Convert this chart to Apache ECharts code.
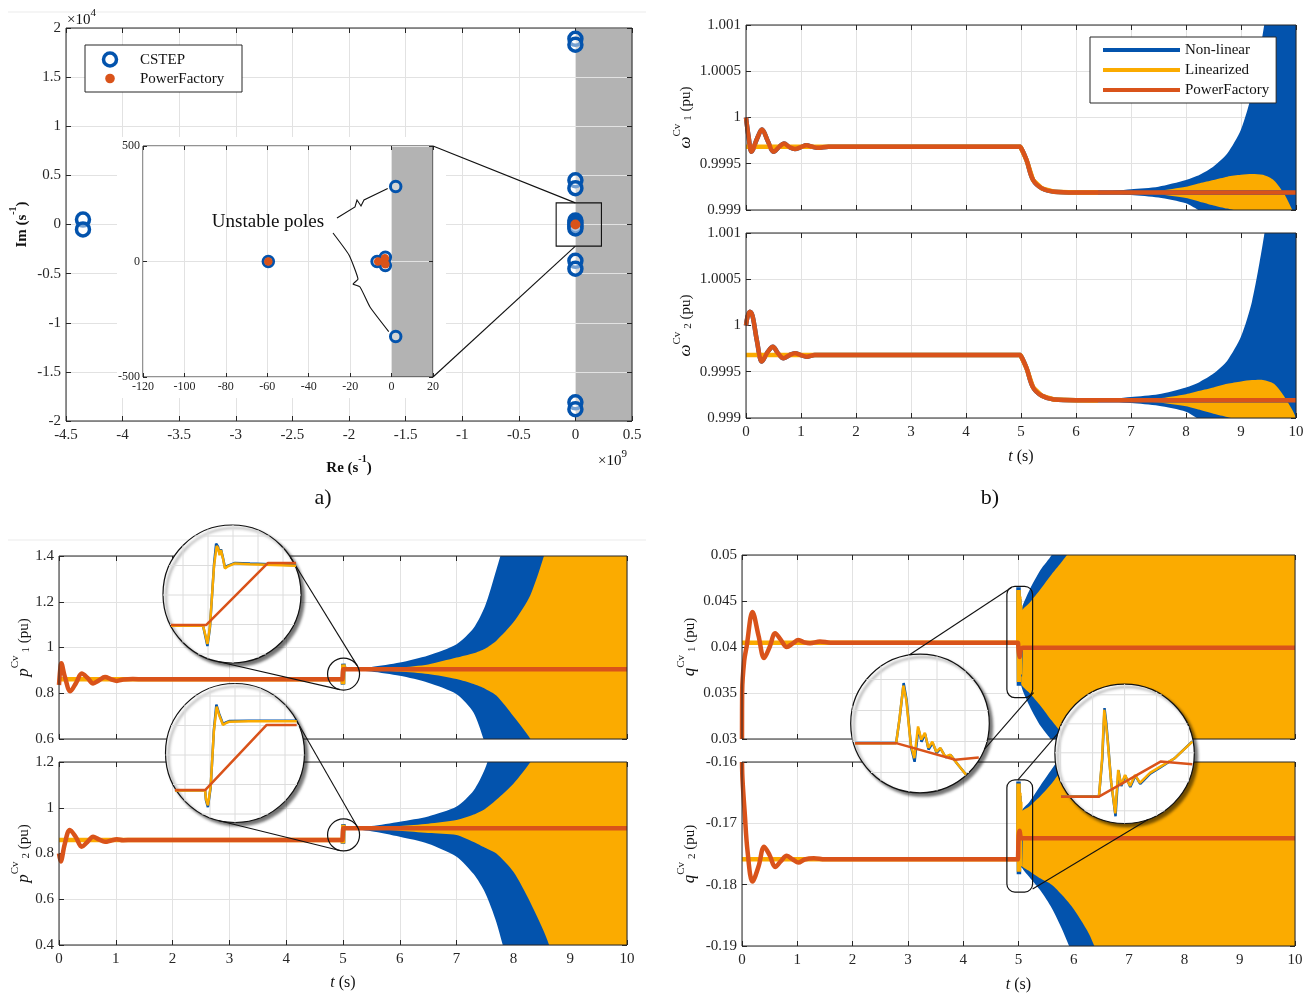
<!DOCTYPE html>
<html>
<head>
<meta charset="utf-8">
<title>Pole map and responses</title>
<script src="https://cdn.jsdelivr.net/npm/echarts@6/dist/echarts.min.js"></script>
<style>
  html, body { margin: 0; padding: 0; background: #fff; }
  #chart { width: 1311px; height: 998px; }
</style>
</head>
<body>
<div id="chart"></div>
<script>
"use strict";
var FONT = 'Liberation Serif';
var INK = '#262626';
var GRID_C = '#e2e2e2';
var BLUE = '#0353ad';
var YELLOW = '#fbab00';
var ORANGE = '#d9531a';
var SHADE = '#b3b3b3';

// ---- a) pole map: Re in 1e9 s^-1, Im in 1e4 s^-1 ----
var cstepPoles = [[-4.35, 0.05], [-4.35, -0.05], [0, 1.89], [0, 1.83], [0, 0.45], [0, 0.37],
  [0, -0.37], [0, -0.45], [0, -1.81], [0, -1.88], [0, 0.04], [0, 0.02], [0, 0], [0, -0.02], [0, -0.04]];
var pfPoles = [[0, 0]];
var unstableMain = [0, 0.5];
var zoomBox = [[-0.17, 0.22], [0.23, -0.22]];
// inset, s^-1
var cstepInset = [[-59.5, 0], [-7, 0], [-3, 18], [-3, -17], [2, 325], [2, -325]];
var pfInset = [[-59.5, 0], [-6.5, 0], [-3.2, 14], [-3, -12]];
var unstableInset = [0, 20];

// ---- b) converter speed ----
var w1PF = [[0, 1.0], [0.05, 0.99978], [0.1, 0.99963], [0.2, 0.99977], [0.29, 0.99987], [0.4, 0.99974], [0.5, 0.99963],
  [0.6, 0.99968], [0.69, 0.99972], [0.79, 0.99968], [0.89, 0.99966], [1.0, 0.99968], [1.1, 0.9997], [1.2, 0.999685],
  [1.3, 0.999672], [1.5, 0.999685], [4.99, 0.999684], [5.0, 0.999684], [5.1, 0.99954], [5.22, 0.999324],
  [5.38, 0.999234], [5.6, 0.999198], [6.0, 0.99919], [10, 0.99919]];
var w1Lin = [[0, 0.999684], [4.99, 0.999684], [5.0, 0.999684], [5.1, 0.99954], [5.22, 0.999324], [5.38, 0.999234],
  [5.6, 0.999198], [6.0, 0.99919], [6.4, 0.99919]];
var w2PF = [[0, 1.0], [0.03, 1.0001], [0.07, 1.00015], [0.12, 1.0001], [0.2, 0.99983], [0.29, 0.99961], [0.39, 0.99971],
  [0.49, 0.99977], [0.58, 0.9997], [0.68, 0.999645], [0.79, 0.99968], [0.89, 0.9997], [1.0, 0.99968], [1.1, 0.999663],
  [1.25, 0.99968], [1.5, 0.999681], [4.99, 0.999681], [5.0, 0.999681], [5.1, 0.99954], [5.22, 0.99933],
  [5.38, 0.99924], [5.6, 0.9992], [6.0, 0.999193], [10, 0.999193]];
var w2Lin = [[0, 0.999681], [4.99, 0.999681], [5.0, 0.999681], [5.1, 0.99954], [5.22, 0.99933], [5.38, 0.99924],
  [5.6, 0.9992], [6.0, 0.999193], [6.4, 0.99919]];
// oscillation envelopes
var wT = [6.4, 7.0, 7.5, 8.0, 8.25, 8.5, 8.75, 9.0, 9.2, 9.4, 9.6, 9.8, 10];
var w1BlueHi = [0.99919, 0.999224, 0.999252, 0.999324, 0.99938, 0.99947, 0.99961, 0.99987, 1.00027, 1.00092, 1.0017, 1.0025, 1.0033];
var w1BlueLo = [0.99919, 0.999163, 0.999135, 0.999072, 0.99899, 0.99891, 0.99877, 0.99853, 0.99815, 0.9977, 0.997, 0.9962, 0.9955];
var w1YelHi = [0.99919, 0.999195, 0.99921, 0.999252, 0.99929, 0.999324, 0.99936, 0.99938, 0.999389, 0.99938, 0.99932, 0.99916, 0.9989];
var w1YelLo = [0.99919, 0.999185, 0.99917, 0.99913, 0.99909, 0.99905, 0.999015, 0.99898, 0.99893, 0.99889, 0.99886, 0.99882, 0.9988];
var w2BlueHi = [0.99919, 0.999226, 0.999256, 0.99933, 0.99939, 0.99948, 0.99962, 0.99988, 1.00026, 1.0009, 1.0017, 1.0025, 1.0033];
var w2BlueLo = [0.99919, 0.999162, 0.999132, 0.999068, 0.99898, 0.9989, 0.99876, 0.99852, 0.99815, 0.9977, 0.997, 0.9962, 0.9955];
var w2YelHi = [0.99919, 0.999196, 0.999213, 0.999258, 0.999295, 0.99933, 0.99937, 0.999395, 0.99941, 0.999412, 0.99937, 0.99922, 0.999];
var w2YelLo = [0.99919, 0.999184, 0.999168, 0.999128, 0.999088, 0.999045, 0.99901, 0.99897, 0.99893, 0.99889, 0.99886, 0.99883, 0.9988];

// ---- active power ----
var p1PF = [[0, 0.836], [0.02, 0.9], [0.04, 0.931], [0.1, 0.875], [0.2, 0.809], [0.3, 0.845], [0.4, 0.886], [0.5, 0.868],
  [0.6, 0.843], [0.7, 0.856], [0.81, 0.871], [0.92, 0.861], [1.02, 0.854], [1.13, 0.86], [1.3, 0.862], [1.5, 0.861],
  [4.99, 0.861], [5.0, 0.861], [5.003, 0.905], [5.006, 0.905], [10, 0.905]];
var p1Lin = [[0, 0.861], [4.995, 0.861], [5.0, 0.84], [5.006, 0.926], [5.012, 0.912], [5.02, 0.905], [5.05, 0.905]];
var p1NL = [[4.995, 0.861], [5.0, 0.838], [5.006, 0.929], [5.012, 0.913], [5.02, 0.905], [5.05, 0.905]];
var p2PF = [[0, 0.8], [0.03, 0.765], [0.1, 0.84], [0.19, 0.903], [0.3, 0.87], [0.4, 0.83], [0.5, 0.85], [0.6, 0.873],
  [0.7, 0.862], [0.81, 0.851], [0.92, 0.857], [1.02, 0.862], [1.13, 0.858], [1.3, 0.859], [4.99, 0.859], [5.0, 0.859],
  [5.003, 0.91], [5.006, 0.91], [10, 0.91]];
var p2Lin = [[0, 0.859], [4.995, 0.859], [5.0, 0.845], [5.006, 0.925], [5.012, 0.913], [5.02, 0.91], [5.05, 0.91]];
var p2NL = [[4.995, 0.859], [5.0, 0.843], [5.006, 0.928], [5.012, 0.914], [5.02, 0.91], [5.05, 0.91]];
var pT = [5.05, 5.5, 6.0, 6.5, 7.0, 7.3, 7.5, 7.7, 8.0, 8.3, 8.6, 9.0, 10];
var p1BlueHi = [0.905, 0.915, 0.934, 0.965, 1.0145, 1.085, 1.18, 1.34, 1.6, 1.9, 2.2, 2.6, 3.5];
var p1BlueLo = [0.905, 0.895, 0.876, 0.846, 0.796, 0.715, 0.58, 0.42, 0.2, 0.0, -0.3, -0.7, -1.6];
var p1YelHi = [0.905, 0.908, 0.913, 0.926, 0.956, 0.975, 0.995, 1.03, 1.11, 1.23, 1.45, 1.8, 2.8];
var p1YelLo = [0.905, 0.902, 0.895, 0.884, 0.862, 0.84, 0.82, 0.79, 0.7, 0.6, 0.45, 0.2, -0.6];
var p2BlueHi = [0.91, 0.92, 0.939, 0.962, 1.005, 1.075, 1.17, 1.33, 1.6, 1.9, 2.2, 2.6, 3.5];
var p2BlueLo = [0.91, 0.897, 0.873, 0.843, 0.786, 0.71, 0.63, 0.5, 0.22, -0.1, -0.4, -0.8, -1.6];
var p2YelHi = [0.91, 0.915, 0.92, 0.93, 0.946, 0.97, 0.995, 1.035, 1.105, 1.2, 1.33, 1.6, 2.6];
var p2YelLo = [0.91, 0.905, 0.9, 0.89, 0.881, 0.85, 0.825, 0.8, 0.72, 0.585, 0.42, 0.1, -0.8];

// ---- reactive power ----
var q1PF = [[0, 0.03], [0.003, 0.0352], [0.04, 0.0385], [0.085, 0.0401], [0.19, 0.0438], [0.3, 0.0412], [0.4, 0.0388],
  [0.5, 0.04], [0.6, 0.0415], [0.7, 0.0408], [0.81, 0.04], [0.92, 0.0404], [1.02, 0.04076], [1.13, 0.0405],
  [1.23, 0.0404], [1.41, 0.0406], [1.6, 0.04047], [4.99, 0.04047], [5.0, 0.04047], [5.005, 0.0395], [5.02, 0.0389],
  [5.04, 0.0397], [5.08, 0.03992], [10, 0.03992]];
var q1Lin = [[0, 0.04047], [4.995, 0.04047], [5.0, 0.0462], [5.008, 0.0362], [5.016, 0.0455], [5.024, 0.037], [5.032, 0.0445], [5.04, 0.0399]];
var q1NL = [[4.995, 0.04047], [5.0, 0.0465], [5.008, 0.0358], [5.016, 0.0452], [5.024, 0.0368], [5.04, 0.0399]];
var q2PF = [[0, -0.16], [0.01, -0.163], [0.05, -0.1684], [0.1, -0.1745], [0.19, -0.1795], [0.3, -0.177], [0.4, -0.1738],
  [0.5, -0.1752], [0.6, -0.1771], [0.7, -0.1762], [0.81, -0.1753], [0.92, -0.1759], [1.02, -0.1764], [1.13, -0.1759],
  [1.3, -0.1757], [1.5, -0.17587], [4.99, -0.17587], [5.0, -0.17587], [5.003, -0.172], [5.02, -0.1712], [5.04, -0.1722],
  [5.08, -0.17244], [10, -0.17244]];
var q2Lin = [[0, -0.17587], [4.995, -0.17587], [5.0, -0.1635], [5.008, -0.1779], [5.016, -0.165], [5.024, -0.177], [5.032, -0.1665], [5.04, -0.1725]];
var q2NL = [[4.995, -0.17587], [5.0, -0.1632], [5.008, -0.1783], [5.016, -0.1655], [5.024, -0.1772], [5.04, -0.1725]];
var qT = [5.04, 5.2, 5.4, 5.6, 5.8, 6.0, 6.3, 7.0, 10];
var q1BlueHi = [0.0437, 0.0462, 0.0484, 0.05, 0.0525, 0.055, 0.06, 0.075, 0.15];
var q1BlueLo = [0.0361, 0.0336, 0.0314, 0.0298, 0.0273, 0.025, 0.02, 0.005, -0.07];
var q1YelHi = [0.0437, 0.0448, 0.0463, 0.0479, 0.0494, 0.051, 0.054, 0.065, 0.15];
var q1YelLo = [0.0361, 0.035, 0.0336, 0.032, 0.0305, 0.029, 0.026, 0.015, -0.07];
var q2BlueHi = [-0.1683, -0.1665, -0.1638, -0.1612, -0.1585, -0.155, -0.148, -0.125, -0.02];
var q2BlueLo = [-0.1767, -0.1788, -0.181, -0.1838, -0.1875, -0.192, -0.2, -0.225, -0.33];
var q2YelHi = [-0.1683, -0.1672, -0.1655, -0.1635, -0.161, -0.1585, -0.154, -0.14, -0.02];
var q2YelLo = [-0.1767, -0.1778, -0.179, -0.18, -0.1818, -0.184, -0.1885, -0.205, -0.33];

// ---- magnified views around t = 5 s ----
var m1PF = [[4.9757, 0.861], [5.0012, 0.861], [5.0461, 0.907], [5.0664, 0.907]];
var m1Lin = [[4.9758, 0.8605], [4.999, 0.8605], [5.0004, 0.855], [5.0022, 0.847], [5.004, 0.86], [5.007, 0.905],
  [5.0089, 0.9196], [5.0099, 0.918], [5.011, 0.9127], [5.012, 0.9165], [5.0135, 0.91], [5.0149, 0.9029],
  [5.0171, 0.9045], [5.0222, 0.9066], [5.033, 0.906], [5.0664, 0.9048]];
var m1NL = [[4.9758, 0.8607], [4.999, 0.8607], [5.0004, 0.854], [5.0022, 0.8455], [5.004, 0.859], [5.007, 0.906],
  [5.0085, 0.9212], [5.0099, 0.919], [5.011, 0.9135], [5.012, 0.917], [5.0135, 0.9105], [5.0149, 0.9035],
  [5.0171, 0.905], [5.0222, 0.907], [5.033, 0.9065], [5.0664, 0.9052]];
var m2PF = [[4.9768, 0.859], [4.9987, 0.859], [5.0428, 0.91], [5.0644, 0.91]];
var m2Lin = [[4.9768, 0.8585], [4.9985, 0.8585], [4.9991, 0.852], [5.0005, 0.847], [5.0025, 0.862], [5.0048, 0.905],
  [5.0068, 0.9243], [5.0085, 0.918], [5.0114, 0.91], [5.0135, 0.9115], [5.0157, 0.9125], [5.03, 0.9128], [5.0644, 0.9129]];
var m2NL = [[4.9768, 0.8588], [4.9985, 0.8588], [4.9991, 0.851], [5.0005, 0.8455], [5.0025, 0.861], [5.0048, 0.906],
  [5.0066, 0.926], [5.0085, 0.919], [5.0114, 0.9105], [5.0135, 0.912], [5.0157, 0.913], [5.03, 0.9132], [5.0644, 0.9133]];
var m3PF = [[4.9731, 0.04048], [5.0028, 0.04048], [5.0455, 0.03898], [5.0624, 0.03918]];
var m3Lin = [[4.9731, 0.04048], [5.0028, 0.04048], [5.0051, 0.04258], [5.008, 0.04567], [5.0101, 0.04438], [5.0134, 0.04033],
  [5.0159, 0.03913], [5.0186, 0.04198], [5.0209, 0.04078], [5.0235, 0.04141], [5.026, 0.04006], [5.0289, 0.0406],
  [5.0318, 0.0397], [5.0346, 0.04006], [5.0383, 0.03925], [5.0419, 0.03943], [5.0469, 0.03862], [5.0532, 0.03763]];
var m3NL = [[4.9731, 0.0405], [5.0028, 0.0405], [5.0053, 0.0427], [5.0082, 0.0459], [5.0103, 0.0444], [5.0136, 0.0401],
  [5.0161, 0.0388], [5.0188, 0.0418], [5.0211, 0.0406], [5.0237, 0.0413], [5.0262, 0.0399], [5.0291, 0.0405],
  [5.032, 0.0396], [5.0348, 0.04], [5.0385, 0.0392], [5.0421, 0.0394], [5.047, 0.0386], [5.0532, 0.03765]];
var m4PF = [[4.9744, -0.17582], [5.0016, -0.17582], [5.0458, -0.17245], [5.0686, -0.1727]];
var m4Lin = [[4.9744, -0.17582], [5.0016, -0.17582], [5.0038, -0.17229], [5.0054, -0.16747], [5.0067, -0.16892],
  [5.0078, -0.17036], [5.0102, -0.17421], [5.0133, -0.17742], [5.0154, -0.17325], [5.0174, -0.17469], [5.0203, -0.17373],
  [5.0239, -0.17479], [5.0275, -0.17373], [5.031, -0.1745], [5.0382, -0.17354], [5.0454, -0.17296], [5.0562, -0.1721],
  [5.0686, -0.17053]];
var m4NL = [[4.9744, -0.1758], [5.0016, -0.1758], [5.004, -0.1722], [5.0056, -0.1673], [5.0069, -0.1688], [5.008, -0.1705],
  [5.0104, -0.1745], [5.0135, -0.1777], [5.0156, -0.1733], [5.0176, -0.1748], [5.0205, -0.1738], [5.0241, -0.1749],
  [5.0277, -0.1738], [5.0312, -0.1746], [5.0384, -0.1736], [5.0456, -0.173], [5.0562, -0.1721], [5.0686, -0.1705]];
// regions that are magnified
var p1Focus = [5.01, 0.884];
var p2Focus = [5.01, 0.881];
var q1Focus = [[4.79, 0.0466], [5.255, 0.0345]];
var q2Focus = [[4.79, -0.1629], [5.255, -0.1812]];

var grids = [], xAxes = [], yAxes = [], series = [];

function fmt(d) { return function (v) { return String(+v.toFixed(d)); }; }

// one boxed axes: bottom/left carry labels and grid, top/right only ticks
function panel(rect, xr, yr, o) {
  o = o || {};
  var gi = grids.length;
  grids.push({ left: rect[0], top: rect[1], width: rect[2], height: rect[3], show: true, outerBoundsMode: 'none',
    borderColor: INK, borderWidth: 1, backgroundColor: 'transparent', z: o.boxZ || 5 });
  function mk(pos, r, main, f, margin, nm) {
    var a = { type: 'value', gridIndex: gi, position: pos, min: r[0], max: r[1], interval: r[2], z: o.axZ || 0,
      axisLine: { show: false, onZero: false },
      axisTick: { show: true, inside: true, length: o.tick || 5, lineStyle: { color: INK } },
      axisLabel: { show: !!f, fontFamily: FONT, fontSize: o.fs || 15, color: INK, margin: margin,
        formatter: f, showMinLabel: true, showMaxLabel: true, hideOverlap: false },
      splitLine: { show: main, lineStyle: { color: GRID_C, width: 1 } }
    };
    if (nm) { for (var k in nm) a[k] = nm[k]; }
    return a;
  }
  xAxes.push(mk('bottom', xr, true, o.xFmt, o.xMargin || 7, o.xName), mk('top', xr, false));
  yAxes.push(mk('left', yr, true, o.yFmt, o.yMargin || 5, o.yName), mk('right', yr, false));
  return xAxes.length - 2;
}

function magGrid(c, r, xr, yr) {
  var gi = grids.length;
  grids.push({ left: c[0] - r, top: c[1] - r, width: 2 * r, height: 2 * r, show: false, outerBoundsMode: 'none' });
  xAxes.push({ type: 'value', gridIndex: gi, min: xr[0], max: xr[1], show: false });
  yAxes.push({ type: 'value', gridIndex: gi, min: yr[0], max: yr[1], show: false });
  return xAxes.length - 1;
}

var RICH = {
  w: { fontFamily: FONT, fontStyle: 'italic', fontSize: 17, color: '#111', lineHeight: 22, verticalAlign: 'bottom' },
  sup: { fontFamily: FONT, fontSize: 11, color: '#111', lineHeight: 10, verticalAlign: 'top' },
  sub: { fontFamily: FONT, fontSize: 11, color: '#111', lineHeight: 10, verticalAlign: 'bottom', padding: [0, 0, 0, 3] },
  n: { fontFamily: FONT, fontSize: 15, color: '#111', lineHeight: 22, verticalAlign: 'bottom' },
  b: { fontFamily: FONT, fontWeight: 'bold', fontSize: 15, color: '#111', lineHeight: 22, verticalAlign: 'bottom' },
  bs: { fontFamily: FONT, fontWeight: 'bold', fontSize: 10, color: '#111', lineHeight: 10, verticalAlign: 'top' },
  i: { fontFamily: FONT, fontStyle: 'italic', fontSize: 16, color: '#111' },
  r: { fontFamily: FONT, fontSize: 16, color: '#111' }
};
function yName(txt, gap) {
  return { name: txt, nameLocation: 'middle', nameGap: gap, nameRotate: 90, nameMoveOverlap: false,
    nameTextStyle: { rich: RICH, fontFamily: FONT } };
}
function xName(txt, gap) {
  return { name: txt, nameLocation: 'middle', nameGap: gap, nameMoveOverlap: false,
    nameTextStyle: { rich: RICH, fontFamily: FONT } };
}
var tName = '{i|t}{r| (s)}';

var A = panel([66, 28, 566, 393], [-4.5, 0.5, 0.5], [-2, 2, 0.5],
  { axZ: 2, boxZ: 5, xFmt: fmt(2), yFmt: fmt(2), xName: xName('{b|Re (s}{bs|-1}{b|)}', 33), yName: yName('{b|Im (s}{bs|-1}{b|)}', 36) });
var AI = panel([143, 146, 290, 231], [-120, 20, 20], [-500, 500, 500],
  { axZ: 7, boxZ: 7, fs: 12, xFmt: fmt(0), yFmt: fmt(0), xMargin: 4, yMargin: 3, tick: 4 });
var W1 = panel([746, 25, 550, 185], [0, 10, 1], [0.999, 1.001, 0.0005],
  { yFmt: fmt(4), yName: yName('{w|ω}{sup|Cv}{sub|1}{n| (pu)}', 52) });
var W2 = panel([746, 233, 550, 185], [0, 10, 1], [0.999, 1.001, 0.0005],
  { xFmt: fmt(0), yFmt: fmt(4), xName: xName(tName, 31), yName: yName('{w|ω}{sup|Cv}{sub|2}{n| (pu)}', 52) });
var P1 = panel([59, 556, 568, 183], [0, 10, 1], [0.6, 1.4, 0.2],
  { yFmt: fmt(1), yName: yName('{w|p}{sup|Cv}{sub|1}{n| (pu)}', 27) });
var P2 = panel([59, 762, 568, 183], [0, 10, 1], [0.4, 1.2, 0.2],
  { xFmt: fmt(0), yFmt: fmt(1), xName: xName(tName, 30), yName: yName('{w|p}{sup|Cv}{sub|2}{n| (pu)}', 27) });
var Q1 = panel([742, 555, 553, 184], [0, 10, 1], [0.03, 0.05, 0.005],
  { yFmt: fmt(3), yName: yName('{w|q}{sup|Cv}{sub|1}{n| (pu)}', 44) });
var Q2 = panel([742, 762, 553, 184], [0, 10, 1], [-0.19, -0.16, 0.01],
  { xFmt: fmt(0), yFmt: fmt(2), xName: xName(tName, 31), yName: yName('{w|q}{sup|Cv}{sub|2}{n| (pu)}', 44) });

var MAGS = [
  { c: [232, 594], r: 69, xr: [4.97, 5.07], yr: [0.833, 0.935], d: [m1NL, m1Lin, m1PF], grid: [25, 1, 29.5, 1] },
  { c: [235, 753], r: 69.5, xr: [4.97, 5.07], yr: [0.8335, 0.9425], d: [m2NL, m2Lin, m2PF], grid: [25, 0, 29.5, 2] },
  { c: [920, 723.5], r: 69.3, xr: [4.97, 5.07], yr: [0.036, 0.0485], d: [m3NL, m3Lin, m3PF], grid: [28, -11, 31, -13] },
  { c: [1124.6, 753.8], r: 69.7, xr: [4.97, 5.07], yr: [-0.1784, -0.165], d: [m4NL, m4Lin, m4PF], grid: [32, 0, 29, -1] }
];
MAGS.forEach(function (m) { m.ax = magGrid(m.c, m.r, m.xr, m.yr); });

function line(ax, data, color, width, name, smooth, z) {
  return { type: 'line', name: name, xAxisIndex: ax, yAxisIndex: ax, data: data, symbol: 'none', showSymbol: false,
    smooth: smooth || false, lineStyle: { color: color, width: width }, itemStyle: { color: color },
    z: z || 2, silent: true, clip: true };
}
function band(ax, T, lo, hi, color) {
  return { type: 'custom', xAxisIndex: ax, yAxisIndex: ax, clip: true, silent: true, z: 2,
    data: T.map(function (t, i) { return [t, lo[i], hi[i]]; }),
    encode: { x: 0, y: [1, 2] },
    renderItem: function (params, api) {
      if (params.dataIndex !== 0) return null;
      var up = T.map(function (t, i) { return api.coord([t, hi[i]]); });
      var dn = T.map(function (t, i) { return api.coord([t, lo[i]]); }).reverse();
      return { type: 'polygon', shape: { points: up.concat(dn), smooth: 0.25 }, style: { fill: color } };
    } };
}
function shade(ax, range, z) {
  return { type: 'custom', xAxisIndex: ax, yAxisIndex: ax, z: z, silent: true, data: [range],
    renderItem: function (params, api) {
      var a = api.coord([api.value(0), 0]), b = api.coord([api.value(1), 0]);
      var cs = params.coordSys;
      return { type: 'rect', shape: { x: a[0], y: cs.y, width: b[0] - a[0], height: cs.height }, style: { fill: SHADE } };
    } };
}
function poles(ax, data, ring, size, z) {
  return { type: 'scatter', xAxisIndex: ax, yAxisIndex: ax, data: data, symbol: 'circle', symbolSize: size, z: z, silent: true,
    itemStyle: ring ? { color: 'rgba(255,255,255,0.45)', borderColor: BLUE, borderWidth: ring, opacity: 1 } : { color: ORANGE, opacity: 1 } };
}

// a)
series.push(shade(A, unstableMain, 1), poles(A, cstepPoles, 3.5, 13, 3), poles(A, pfPoles, 0, 10, 4));
series.push(shade(AI, unstableInset, 6), poles(AI, cstepInset, 3, 10.5, 8), poles(AI, pfInset, 0, 8.5, 9));

// b) and time responses
function response(ax, nl, lin, pf, T, bLo, bHi, yLo, yHi) {
  series.push(line(ax, nl, BLUE, 4.5, 'Non-linear', nl === pf ? 0.35 : false));
  series.push(line(ax, lin, YELLOW, 4.5, 'Linearized', false));
  series.push(band(ax, T, bLo, bHi, BLUE));
  series.push(band(ax, T, yLo, yHi, YELLOW));
  series.push(line(ax, pf, ORANGE, 4.5, 'PowerFactory', 0.35));
}
response(W1, w1PF, w1Lin, w1PF, wT, w1BlueLo, w1BlueHi, w1YelLo, w1YelHi);
response(W2, w2PF, w2Lin, w2PF, wT, w2BlueLo, w2BlueHi, w2YelLo, w2YelHi);
response(P1, p1NL, p1Lin, p1PF, pT, p1BlueLo, p1BlueHi, p1YelLo, p1YelHi);
response(P2, p2NL, p2Lin, p2PF, pT, p2BlueLo, p2BlueHi, p2YelLo, p2YelHi);
response(Q1, q1NL, q1Lin, q1PF, qT, q1BlueLo, q1BlueHi, q1YelLo, q1YelHi);
response(Q2, q2NL, q2Lin, q2PF, qT, q2BlueLo, q2BlueHi, q2YelLo, q2YelHi);

MAGS.forEach(function (m) {
  series.push(line(m.ax, m.d[0], BLUE, 2.5, 'nl-zoom', false, 12));
  series.push(line(m.ax, m.d[1], YELLOW, 2.5, 'lin-zoom', false, 12));
  series.push(line(m.ax, m.d[2], ORANGE, 2.5, 'pf-zoom', false, 12));
});

var option = {
  animation: false,
  backgroundColor: '#fff',
  textStyle: { fontFamily: FONT },
  grid: grids, xAxis: xAxes, yAxis: yAxes, series: series,
  legend: {
    data: [
      { name: 'Non-linear', icon: 'rect', itemStyle: { color: BLUE } },
      { name: 'Linearized', icon: 'rect', itemStyle: { color: YELLOW } },
      { name: 'PowerFactory', icon: 'rect', itemStyle: { color: ORANGE } }
    ],
    orient: 'vertical', left: 1090, top: 37, itemWidth: 77, itemHeight: 4, itemGap: 0,
    padding: [3, 7, 3, 13], backgroundColor: '#fff', borderColor: INK, borderWidth: 1, borderRadius: 0,
    textStyle: { fontFamily: FONT, fontSize: 15, color: '#111', lineHeight: 20 },
    selectedMode: false, z: 6
  }
};

var chart = echarts.init(document.getElementById('chart'));
chart.setOption(option);

// ---------- decorations placed from the axes ----------
function px(ax, v) { return chart.convertToPixel({ xAxisIndex: ax, yAxisIndex: ax }, v); }
var g = [];
function gLine(a, b, z, color, w) {
  g.push({ type: 'line', silent: true, z: z || 10, shape: { x1: a[0], y1: a[1], x2: b[0], y2: b[1] },
    style: { stroke: color || '#111', lineWidth: w || 1.1 } });
}
function gText(x, y, text, st) {
  var s = { text: text, fill: '#111', fontFamily: FONT, fontSize: 15, align: 'left', verticalAlign: 'middle' };
  for (var k in st) s[k] = st[k];
  g.push({ type: 'text', x: x, y: y, z: 20, silent: true, style: s });
}

gLine([8, 12], [646, 12], 1, '#ebebeb', 1);
gLine([8, 540], [646, 540], 1, '#ebebeb', 1);
gText(323, 498, 'a)', { fontSize: 22, align: 'center' });
gText(990, 498, 'b)', { fontSize: 22, align: 'center' });
gText(67, 18, '{a|×10}{b|4}', { rich: { a: { fontFamily: FONT, fontSize: 15, lineHeight: 20, verticalAlign: 'bottom' },
  b: { fontFamily: FONT, fontSize: 11, lineHeight: 12, verticalAlign: 'top' } } });
gText(598, 459, '{a|×10}{b|9}', { rich: { a: { fontFamily: FONT, fontSize: 15, lineHeight: 20, verticalAlign: 'bottom' },
  b: { fontFamily: FONT, fontSize: 11, lineHeight: 12, verticalAlign: 'top' } } });

// legend of a)
g.push({ type: 'rect', z: 19, silent: true, shape: { x: 85, y: 45, width: 157, height: 47 }, style: { fill: '#fff', stroke: INK, lineWidth: 1 } });
g.push({ type: 'circle', z: 20, silent: true, shape: { cx: 110, cy: 59.5, r: 6.5 }, style: { fill: '#fff', stroke: BLUE, lineWidth: 3.5 } });
g.push({ type: 'circle', z: 20, silent: true, shape: { cx: 110, cy: 78.5, r: 4.8 }, style: { fill: ORANGE } });
gText(140, 60, 'CSTEP');
gText(140, 79, 'PowerFactory');

// white backing of the inset of a)
g.push({ type: 'rect', z: 5, silent: true, shape: { x: 117, y: 137, width: 329, height: 261 }, style: { fill: '#fff' } });
var b0 = px(A, zoomBox[0]), b1 = px(A, zoomBox[1]);
g.push({ type: 'rect', z: 9, silent: true, shape: { x: b0[0], y: b0[1], width: b1[0] - b0[0], height: b1[1] - b0[1] },
  style: { fill: null, stroke: '#111', lineWidth: 1.1 } });
gLine([433, 146], px(A, [0, zoomBox[0][1]]), 9);
gLine([433, 377], px(A, [0, zoomBox[1][1]]), 9);

// unstable poles annotation
var u1 = px(AI, cstepInset[4]), u2 = px(AI, cstepInset[5]);
gText(268, 222, 'Unstable poles', { fontSize: 19, align: 'center' });
g.push({ type: 'polyline', z: 10, silent: true, shape: { points: [[337, 218], [355, 207], [357, 200], [361, 206], [364, 200], [u1[0] - 8, u1[1] + 2]] },
  style: { stroke: '#111', lineWidth: 1.1, fill: null } });
g.push({ type: 'polyline', z: 10, silent: true, shape: { points: [[333, 233], [349, 255], [358, 279], [353, 284], [360, 287], [370, 307], [u2[0] - 7, u2[1] - 5]], smooth: 0.15 },
  style: { stroke: '#111', lineWidth: 1.1, fill: null } });

// magnifiers
function outerTangents(c1, r1, c2, r2) {
  var dx = c2[0] - c1[0], dy = c2[1] - c1[1], d = Math.hypot(dx, dy);
  var ux = dx / d, uy = dy / d, cs = (r1 - r2) / d, sn = Math.sqrt(1 - cs * cs);
  return [1, -1].map(function (s) {
    var nx = ux * cs - s * uy * sn, ny = uy * cs + s * ux * sn;
    return [[c1[0] + r1 * nx, c1[1] + r1 * ny], [c2[0] + r2 * nx, c2[1] + r2 * ny]];
  });
}
function onCircle(m, deg) {
  var a = deg * Math.PI / 180;
  return [m.c[0] + m.r * Math.cos(a), m.c[1] + m.r * Math.sin(a)];
}
MAGS.forEach(function (m) {
  g.push({ type: 'circle', z: 10, silent: true, shape: { cx: m.c[0], cy: m.c[1], r: m.r },
    style: { fill: '#fff', stroke: '#111', lineWidth: 1.2, shadowBlur: 3, shadowColor: 'rgba(0,0,0,0.55)', shadowOffsetX: 3, shadowOffsetY: 3 } });
  var s = m.grid;
  for (var k = -4; k <= 4; k++) {
    var dx = s[1] + k * s[0];
    if (Math.abs(dx) < m.r - 2) {
      var h = Math.sqrt(m.r * m.r - dx * dx);
      gLine([m.c[0] + dx, m.c[1] - h], [m.c[0] + dx, m.c[1] + h], 11, '#dcdcdc', 1);
    }
    var dy = s[3] + k * s[2];
    if (Math.abs(dy) < m.r - 2) {
      var w = Math.sqrt(m.r * m.r - dy * dy);
      gLine([m.c[0] - w, m.c[1] + dy], [m.c[0] + w, m.c[1] + dy], 11, '#dcdcdc', 1);
    }
  }
});
[[P1, p1Focus, MAGS[0]], [P2, p2Focus, MAGS[1]]].forEach(function (f) {
  var c = px(f[0], f[1]);
  g.push({ type: 'circle', z: 9, silent: true, shape: { cx: c[0], cy: c[1], r: 16 }, style: { fill: null, stroke: '#111', lineWidth: 1.2 } });
  outerTangents(f[2].c, f[2].r, c, 16).forEach(function (t) { gLine(t[0], t[1], 10); });
});
[[Q1, q1Focus, MAGS[2], [5, 1], -99, [1, -5], 22], [Q2, q2Focus, MAGS[3], [11, 0], -163, [0, -3], 70]].forEach(function (f) {
  var a = px(f[0], f[1][0]), b = px(f[0], f[1][1]);
  g.push({ type: 'rect', z: 9, silent: true, shape: { x: a[0], y: a[1], width: b[0] - a[0], height: b[1] - a[1], r: 8 },
    style: { fill: null, stroke: '#111', lineWidth: 1.2 } });
  gLine([a[0] + f[3][0], a[1] + f[3][1]], onCircle(f[2], f[4]), 10);
  gLine([b[0] + f[5][0], b[1] + f[5][1]], onCircle(f[2], f[6]), 10);
});

chart.setOption({ graphic: { elements: g } });
</script>
</body>
</html>
